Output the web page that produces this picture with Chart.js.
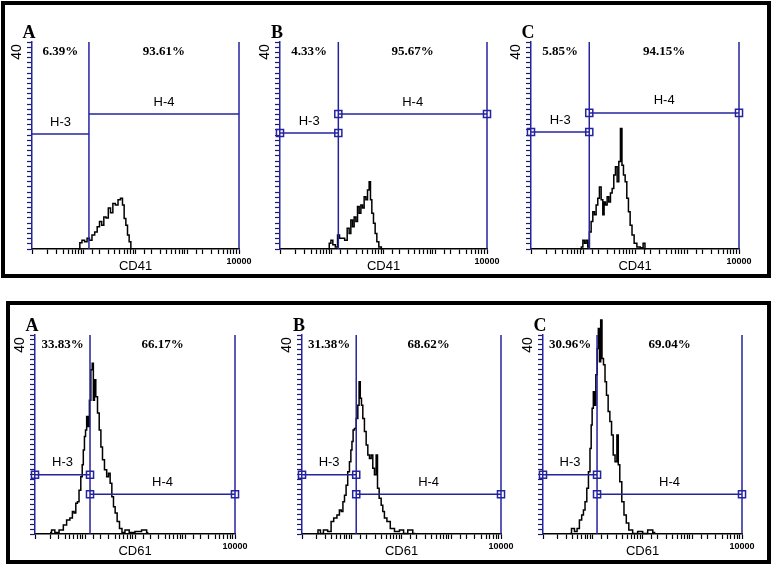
<!DOCTYPE html>
<html>
<head>
<meta charset="utf-8">
<script src="https://cdn.jsdelivr.net/npm/chart.js@4.4.1/dist/chart.umd.min.js"></script>
<style>
  body { margin: 0; width: 772px; height: 570px; background: #fff; position: relative; overflow: hidden; }
  .box { position: absolute; border: 4px solid #000; box-sizing: border-box; }
  canvas { position: absolute; }
</style>
</head>
<body>
<div class="box" style="left:1px;top:1px;width:770px;height:277px"></div>
<div class="box" style="left:6px;top:301px;width:765px;height:263px"></div>
<script>
// panel texts and gates (top row CD41, bottom row CD61)
const panelLetters = ['A', 'B', 'C', 'A', 'B', 'C'];
const markerNames = ['CD41', 'CD41', 'CD41', 'CD61', 'CD61', 'CD61'];
const leftPercents = ['6.39%', '4.33%', '5.85%', '33.83%', '31.38%', '30.96%'];
const rightPercents = ['93.61%', '95.67%', '94.15%', '66.17%', '68.62%', '69.04%'];
const gateCuts = [12.6, 13.4, 13.2, 12.6, 12.3, 12.2];
const h3Levels = [22.2, 22.4, 22.6, 11.9, 11.9, 11.9];
const h4Levels = [26.1, 26.1, 26.3, 8.0, 8.0, 8.0];
const gateHandles = [false, true, true, true, true, true];
const xMin = 1;
const xMax = 10000;
const yMax = 40;

// histogram channels (fluorescence) and counts
const topAChannels = [8.1, 8.7, 9.8, 11.0, 12.2, 13.6, 15.3, 17.3, 19.1, 21.3, 23.2, 25.7, 28.5, 31.2, 34.7, 38.4, 43.4, 48.7, 54.1, 58.1, 62.7, 67.6, 72.6, 78.3, 84.5];
const topACounts = [0, 1.2, 1.7, 1.4, 2.1, 1.7, 2.7, 3.3, 4.3, 5.3, 4.6, 6.2, 6.0, 7.9, 7.0, 8.8, 8.5, 9.5, 9.8, 8.5, 5.9, 4.6, 2.7, 1.4, 0];

const topBChannels = [8.6, 9.3, 10.0, 11.0, 12.5, 13.4, 14.9, 16.7, 18.9, 20.9, 22.5, 24.3, 26.1, 28.1, 30.4, 32.6, 35.2, 37.9, 40.7, 43.9, 47.4, 50.9, 54.8, 57.3, 61.8, 66.4, 71.6, 77.2, 85.5, 96.5];
const topBCounts = [0, 1.1, 1.7, 0.8, 0.4, 2.7, 2.1, 2.1, 1.7, 4.0, 3.0, 5.6, 4.3, 6.2, 5.3, 8.2, 6.9, 8.5, 7.9, 10.1, 9.5, 11.4, 13.0, 9.5, 6.9, 5.0, 3.0, 1.4, 0.4, 0];

const topCChannels = [9.0, 9.6, 10.3, 11.1, 11.9, 12.8, 13.8, 14.9, 16.0, 17.2, 18.6, 19.9, 21.5, 23.2, 24.9, 26.0, 28.1, 30.2, 32.5, 35.0, 37.7, 40.5, 43.7, 47.1, 50.6, 54.5, 57.8, 62.3, 67.1, 72.1, 77.6, 83.8, 91.6, 101, 117, 136, 151, 160];
const topCCounts = [0, 0.4, 1.7, 1.1, 1.7, 0.4, 3.3, 5.3, 7.2, 6.6, 8.5, 9.8, 12.0, 9.5, 6.6, 9.1, 8.5, 10.1, 9.1, 10.8, 11.7, 14.3, 15.9, 13.0, 16.9, 23.3, 16.2, 14.3, 13.0, 9.8, 7.2, 4.6, 2.7, 1.1, 0.4, 0.25, 1.1, 0];

const botAChannels = [2.0, 2.3, 2.7, 3.4, 4.0, 4.6, 5.4, 5.8, 6.3, 6.8, 7.3, 7.9, 8.6, 9.0, 9.5, 10.0, 10.5, 11.1, 11.9, 12.6, 13.6, 14.3, 15.1, 15.8, 17.1, 18.5, 20.0, 21.6, 23.2, 25.9, 28.4, 30.6, 33.1, 35.8, 38.5, 41.7, 46.3, 51.8, 58.3, 68.2, 85.9, 116, 158, 185];
const botACounts = [0.3, 0.8, 0.3, 0.8, 1.8, 2.8, 3.2, 4.5, 4.2, 6.2, 6.5, 8.8, 11.5, 13.9, 16.9, 19.6, 20.9, 23.6, 21.6, 26.9, 33.0, 34.3, 26.9, 31.0, 27.6, 24.3, 20.9, 17.5, 14.9, 12.9, 11.5, 12.2, 10.2, 7.5, 5.5, 4.2, 2.5, 1.1, 0.3, 0.8, 0.3, 0.5, 0.8, 0.3];

const botBChannels = [2.0, 2.2, 2.5, 2.9, 3.7, 4.0, 4.7, 5.4, 5.9, 6.4, 6.9, 7.4, 8.0, 8.6, 9.4, 9.8, 10.4, 10.9, 11.8, 12.8, 13.7, 14.4, 15.3, 16.1, 17.3, 18.7, 20.3, 21.8, 23.6, 25.5, 27.5, 29.7, 32.2, 33.7, 37.5, 40.6, 43.6, 47.2, 55.0, 64.4, 81.2, 102, 119, 150, 189];
const botBCounts = [0.1, 0.8, 0.1, 0.8, 0.5, 2.5, 3.2, 3.8, 4.8, 4.5, 6.5, 7.8, 9.8, 12.5, 14.5, 16.9, 18.6, 20.9, 21.2, 23.2, 25.9, 30.6, 27.3, 25.9, 23.2, 20.6, 17.9, 15.9, 15.2, 15.9, 13.2, 11.9, 15.9, 9.2, 7.2, 5.8, 4.5, 3.2, 2.5, 1.1, 0.5, 0.8, 0.1, 0.8, 0.1];

const botCChannels = [3.5, 4.0, 4.6, 5.1, 5.7, 6.3, 6.7, 7.3, 7.9, 8.5, 9.1, 9.5, 9.95, 10.6, 11.1, 12.0, 12.6, 13.3, 14.0, 14.9, 15.8, 17.1, 18.2, 19.6, 21.2, 23.0, 24.8, 26.8, 29.4, 31.8, 33.4, 36.6, 40.2, 44.8, 49.8, 56.5, 71.2, 89.9, 113, 143, 181];
const botCCounts = [0.1, 1.1, 0.5, 1.1, 2.8, 3.8, 4.8, 6.5, 9.2, 12.5, 17.2, 21.9, 25.3, 28.6, 25.9, 32.0, 37.3, 41.3, 34.6, 43.0, 35.3, 34.0, 30.6, 27.9, 24.6, 22.6, 19.9, 15.9, 14.5, 19.9, 13.9, 10.5, 6.5, 3.8, 2.2, 0.8, 0.1, 0.5, 0.1, 0.8, 0.3];

const histograms = [
  [topAChannels, topACounts], [topBChannels, topBCounts], [topCChannels, topCCounts],
  [botAChannels, botACounts], [botBChannels, botBCounts], [botCChannels, botCCounts],
];

// plot area of each panel on the page: left, top, width, height
const plotBoxes = [
  [32, 42, 207, 207], [280, 42, 207, 207], [531, 42, 208, 207],
  [35, 335, 200, 199], [302, 335, 199, 199], [543, 335, 199, 199],
];

const GATE_BLUE = '#25239f';
const PAD_L = 30;
const PAD_T = 44;
const PAD_R = 20;
const PAD_B = 28;
const Y_TICK = 5;
const X_TICK = 5;

const panelText = {
  id: 'panelText',
  afterDraw(chart, args, opts) {
    const { ctx, chartArea: a, scales: { x, y } } = chart;
    const gx = x.getPixelForValue(opts.gate);
    const leftMid = (a.left + gx) / 2;
    const rightMid = (gx + a.right) / 2;
    ctx.save();
    ctx.fillStyle = '#000';
    ctx.textAlign = 'center';
    ctx.textBaseline = 'middle';

    ctx.font = 'bold 18px "Liberation Serif", "Times New Roman", serif';
    ctx.fillText(opts.letter, a.left - 3, a.top - 9);

    ctx.save();
    ctx.translate(a.left - 15, y.getPixelForValue(yMax) + 10);
    ctx.rotate(-Math.PI / 2);
    ctx.font = '14px "Liberation Sans", Arial, sans-serif';
    ctx.fillText(String(yMax), 0, 0);
    ctx.restore();

    ctx.font = 'bold 13px "Liberation Serif", "Times New Roman", serif';
    ctx.fillText(opts.leftPct, leftMid, a.top + 10);
    ctx.fillText(opts.rightPct, rightMid, a.top + 10);

    ctx.font = '13px "Liberation Sans", Arial, sans-serif';
    ctx.fillText('H-3', leftMid, y.getPixelForValue(opts.h3) - 12);
    ctx.fillText('H-4', rightMid, y.getPixelForValue(opts.h4) - 12);
    ctx.fillText(opts.marker, (a.left + a.right) / 2, a.bottom + 17);

    ctx.font = 'bold 9px "Liberation Sans Narrow", "Liberation Sans", sans-serif';
    ctx.fillText(String(xMax), a.right, a.bottom + 13);
    ctx.restore();
  },
};

const gateLine = (points, radius) => ({
  data: points,
  borderColor: GATE_BLUE,
  borderWidth: 1.5,
  pointStyle: 'rect',
  pointRadius: radius,
  pointBorderColor: GATE_BLUE,
  pointBorderWidth: 1.5,
  pointBackgroundColor: 'rgba(0,0,0,0)',
  clip: false,
});

plotBoxes.forEach(([left, top, w, h], i) => {
  const canvas = document.createElement('canvas');
  canvas.width = w + PAD_L + PAD_R;
  canvas.height = h + PAD_T + PAD_B;
  canvas.style.left = `${left - PAD_L}px`;
  canvas.style.top = `${top - PAD_T}px`;
  document.body.appendChild(canvas);

  const [channels, counts] = histograms[i];
  const gate = gateCuts[i];
  const r = gateHandles[i] ? 5 : 0;

  new Chart(canvas, {
    type: 'line',
    data: {
      datasets: [
        gateLine([{ x: gate, y: 0 }, { x: gate, y: yMax }], 0),
        gateLine([{ x: xMax, y: 0 }, { x: xMax, y: yMax }], 0),
        gateLine([{ x: xMin, y: h3Levels[i] }, { x: gate, y: h3Levels[i] }], r),
        gateLine([{ x: gate, y: h4Levels[i] }, { x: xMax, y: h4Levels[i] }], r),
        {
          data: channels.map((c, k) => ({ x: c, y: counts[k] })),
          borderColor: '#000',
          borderWidth: 1.5,
          pointRadius: 0,
          stepped: 'middle',
          clip: false,
        },
      ],
    },
    options: {
      responsive: false,
      animation: false,
      events: [],
      layout: {
        autoPadding: false,
        padding: { left: PAD_L - Y_TICK, top: PAD_T, right: PAD_R, bottom: PAD_B - X_TICK },
      },
      scales: {
        x: {
          type: 'logarithmic',
          min: xMin,
          max: xMax,
          ticks: { display: false, autoSkip: false },
          grid: { drawOnChartArea: false, tickLength: X_TICK, color: '#000', tickColor: '#000', tickWidth: 1.2 },
          border: { color: '#000', width: 1.5 },
        },
        y: {
          type: 'linear',
          min: 0,
          max: yMax,
          ticks: { display: false, stepSize: 1, maxTicksLimit: 41 },
          grid: { drawOnChartArea: false, tickLength: Y_TICK, color: '#1c1a6a', tickColor: '#1c1a6a', tickWidth: 1.2 },
          border: { color: GATE_BLUE, width: 1.5 },
        },
      },
      plugins: {
        legend: { display: false },
        tooltip: { enabled: false },
        panelText: {
          letter: panelLetters[i],
          marker: markerNames[i],
          leftPct: leftPercents[i],
          rightPct: rightPercents[i],
          gate,
          h3: h3Levels[i],
          h4: h4Levels[i],
        },
      },
    },
    plugins: [panelText],
  });
});
</script>
</body>
</html>
